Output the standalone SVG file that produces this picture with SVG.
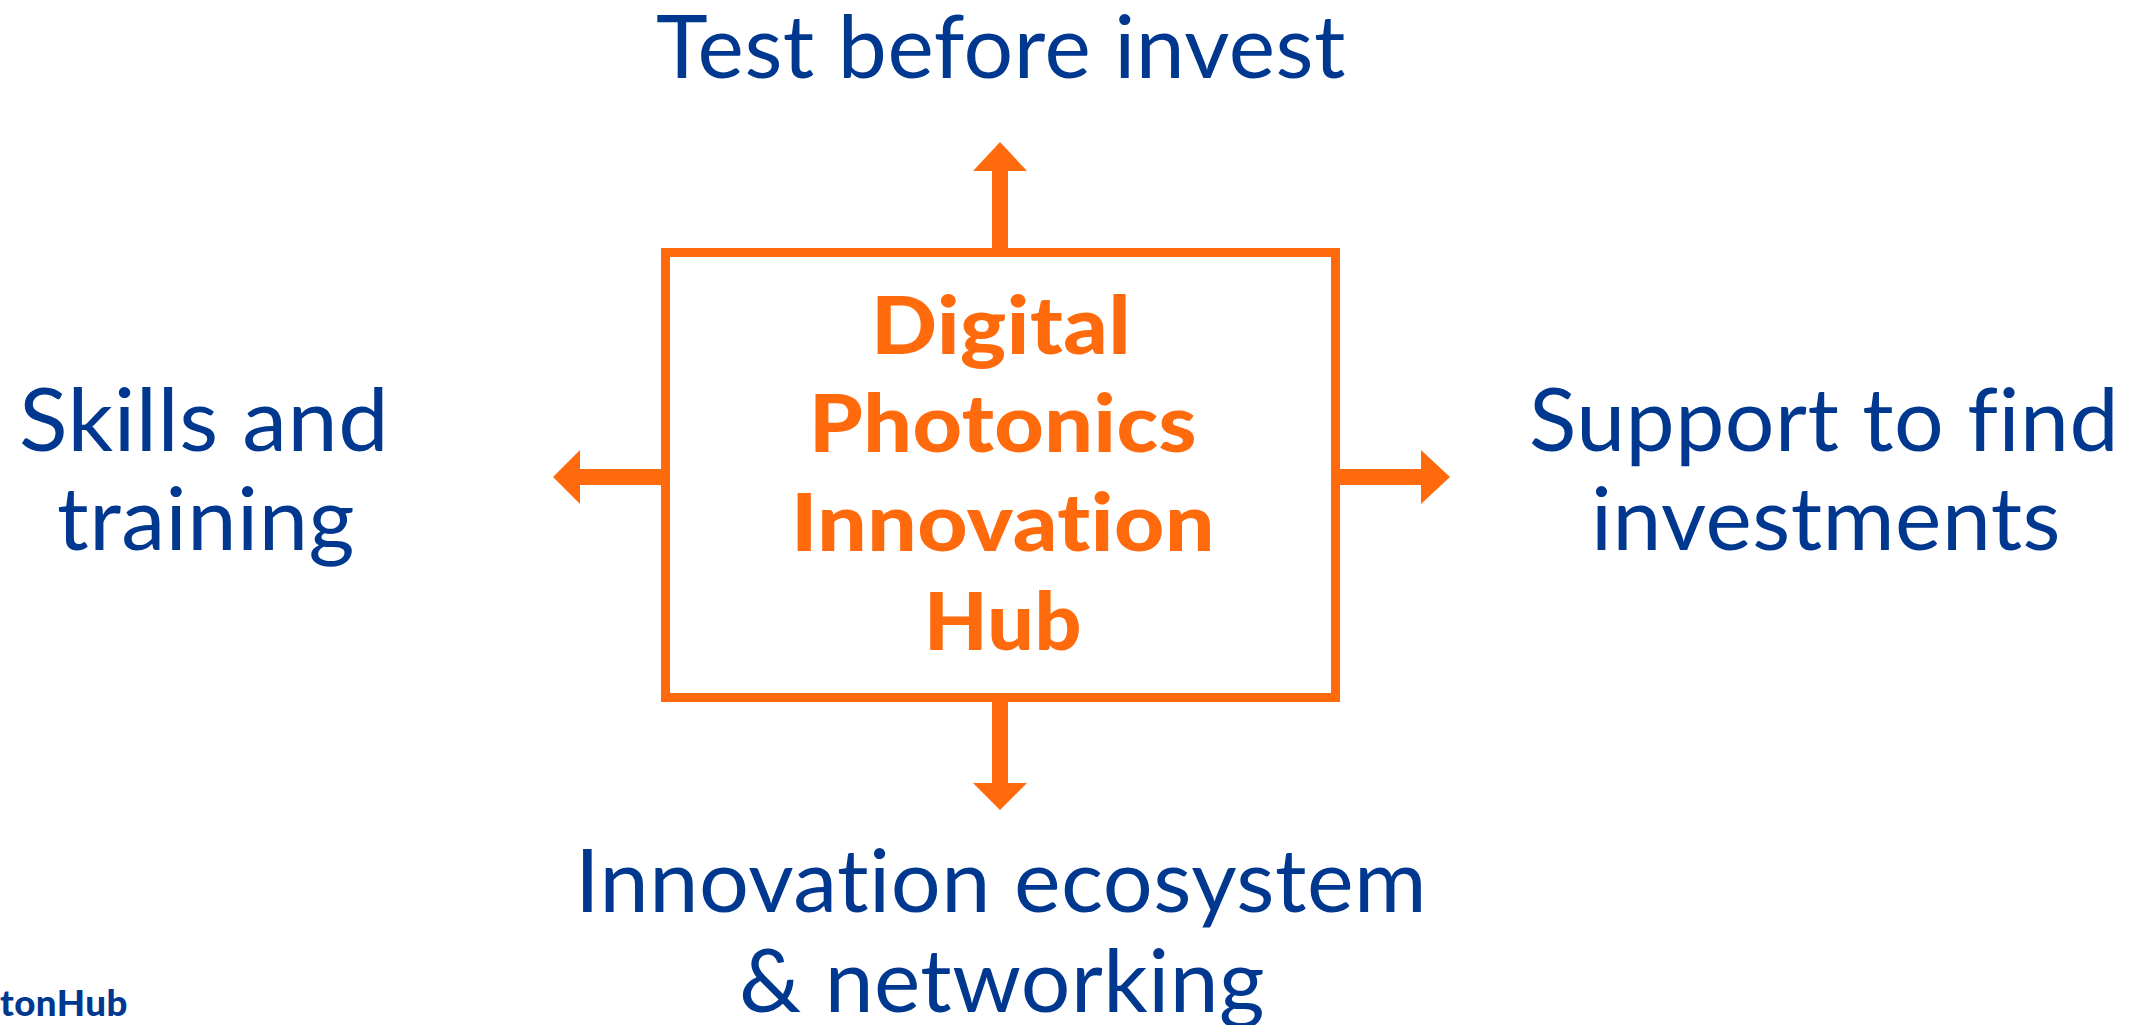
<svg xmlns="http://www.w3.org/2000/svg" width="2154" height="1025" viewBox="0 0 2154 1025">
<defs>
<style>
text{font-variant-ligatures:none;font-feature-settings:"liga" 0,"clig" 0;letter-spacing:0.5px}
.lbl{font-family:Lato,"Open Sans","Liberation Sans",sans-serif;font-size:87px;fill:#00388F;text-anchor:middle}
.hub{font-family:Lato,"Open Sans","Liberation Sans",sans-serif;font-weight:900;font-size:80px;fill:#FF6A0D;text-anchor:middle}
.shaft{stroke:#FF6A0D;stroke-width:16;fill:none}
.head{fill:#FF6A0D}
</style>
</defs>
<rect width="2154" height="1025" fill="#ffffff"/>
<g id="connectors">
<line class="shaft" x1="1000" y1="252" x2="1000" y2="170"/>
<polygon class="head" points="1000,142 973,171 1027,171"/>
<line class="shaft" x1="1000" y1="698" x2="1000" y2="784"/>
<polygon class="head" points="973,783 1027,783 1000,810"/>
<line class="shaft" x1="665" y1="477" x2="579" y2="477"/>
<polygon class="head" points="553,477 580,450 580,504"/>
<line class="shaft" x1="1336" y1="477" x2="1422" y2="477"/>
<polygon class="head" points="1450,477 1421,450 1421,504"/>
</g>
<g id="hub">
<rect x="665.5" y="252.5" width="670" height="445" fill="none" stroke="#FF6A0D" stroke-width="9"/>
<text class="hub" x="1001" y="354" textLength="260" lengthAdjust="spacingAndGlyphs">Digital</text>
<text class="hub" x="1003" y="452" textLength="388" lengthAdjust="spacingAndGlyphs">Photonics</text>
<text class="hub" x="1003" y="551" textLength="424" lengthAdjust="spacingAndGlyphs">Innovation</text>
<text class="hub" x="1003" y="650" textLength="158" lengthAdjust="spacingAndGlyphs">Hub</text>
</g>
<g id="test-before-invest">
<text class="lbl" x="1001" y="78" textLength="690" lengthAdjust="spacingAndGlyphs">Test before invest</text>
</g>
<g id="skills-and-training">
<text class="lbl" x="204" y="451" textLength="370" lengthAdjust="spacingAndGlyphs">Skills and</text>
<text class="lbl" x="206" y="550" textLength="298" lengthAdjust="spacingAndGlyphs">training</text>
</g>
<g id="support-to-find-investments">
<text class="lbl" x="1824" y="451" textLength="590" lengthAdjust="spacingAndGlyphs">Support to find</text>
<text class="lbl" x="1826" y="550" textLength="470" lengthAdjust="spacingAndGlyphs">investments</text>
</g>
<g id="innovation-ecosystem">
<text class="lbl" x="1001" y="912" textLength="852" lengthAdjust="spacingAndGlyphs">Innovation ecosystem</text>
<text class="lbl" x="1002" y="1012" textLength="526" lengthAdjust="spacingAndGlyphs">&amp; networking</text>
</g>
<g id="footer">
<text x="0" y="1016" font-family="Lato,'Liberation Sans',sans-serif" font-weight="900" font-size="36" fill="#00388F" textLength="128" lengthAdjust="spacingAndGlyphs">tonHub</text>
</g>
</svg>
